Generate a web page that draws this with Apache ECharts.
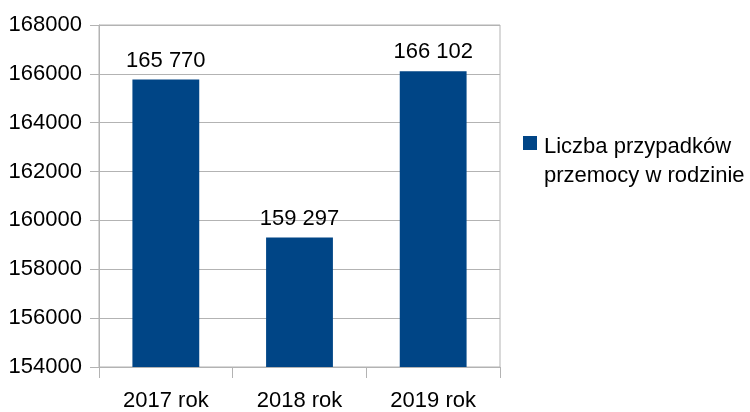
<!DOCTYPE html>
<html><head><meta charset="utf-8">
<script src="https://cdn.jsdelivr.net/npm/echarts@6/dist/echarts.min.js"></script>
<style>html,body{margin:0;padding:0;background:#fff}#c{width:750px;height:412px}</style>
</head><body><div id="c"></div>
<script>
const categories = ['2017 rok', '2018 rok', '2019 rok'];
const values = [165770, 159297, 166102];
const seriesName = 'Liczba przypadków\nprzemocy w rodzinie';
const yMin = 154000, yMax = 168000, yStep = 2000;

const FONT = '"Liberation Sans", Arial, sans-serif';
const chart = echarts.init(document.getElementById('c'), null, {renderer: 'canvas'});
chart.setOption({
  animation: false,
  backgroundColor: '#ffffff',
  textStyle: {fontFamily: FONT},
  grid: {left: 99, right: 250, top: 25, bottom: 44, show: true, borderColor: '#b3b3b3', borderWidth: 1},
  legend: {
    show: true, left: 523, top: 103, orient: 'vertical', padding: 0,
    icon: 'rect', itemWidth: 14, itemHeight: 14, itemGap: 0,
    formatter: name => '{e| }\n' + name.split('\n').map(s => '{t|' + s + '}').join('\n'),
    textStyle: {
      fontFamily: FONT, fontSize: 22, color: '#000', padding: [0, 0, 0, 2],
      rich: {
        e: {fontFamily: FONT, fontSize: 22, lineHeight: 37},
        t: {fontFamily: FONT, fontSize: 22, color: '#000', lineHeight: 29}
      }
    },
    data: [seriesName]
  },
  xAxis: {
    type: 'category', data: categories, boundaryGap: true,
    axisLine: {lineStyle: {color: '#b3b3b3'}},
    axisTick: {show: true, length: 11, lineStyle: {color: '#b3b3b3'}},
    axisLabel: {color: '#000', fontSize: 22, margin: 23, fontFamily: FONT}
  },
  yAxis: {
    type: 'value', min: yMin, max: yMax, interval: yStep,
    axisLine: {show: true, lineStyle: {color: '#b3b3b3'}},
    axisTick: {show: true, length: 9, lineStyle: {color: '#b3b3b3'}},
    splitLine: {show: true, lineStyle: {color: '#b3b3b3'}},
    axisLabel: {color: '#000', fontSize: 22, margin: 17, fontFamily: FONT, formatter: v => String(v)}
  },
  series: [{
    name: seriesName, type: 'bar', data: values, barWidth: '50%',
    itemStyle: {color: '#004586'},
    label: {
      show: true, position: 'top', distance: 8, color: '#000', fontSize: 22, fontFamily: FONT,
      formatter: p => String(p.value).replace(/\B(?=(\d{3})+(?!\d))/g, ' ')
    }
  }]
});
</script></body></html>
